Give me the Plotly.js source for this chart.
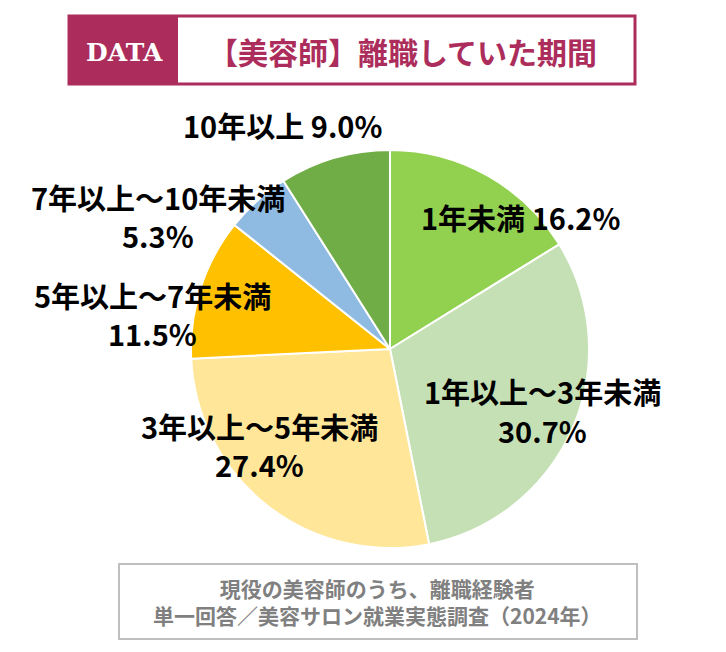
<!DOCTYPE html>
<html>
<head>
<meta charset="utf-8">
<script src="https://cdn.plot.ly/plotly-3.0.1.min.js"></script>
<style>
  html, body { margin: 0; padding: 0; background: #ffffff; }
  #chart { width: 726px; height: 652px; }
</style>
</head>
<body>
<div id="chart"></div>
<script>
// 離職していた期間（単一回答）
const categories = ['1年未満', '1年以上～3年未満', '3年以上～5年未満', '5年以上～7年未満', '7年以上～10年未満', '10年以上'];
const values = [16.2, 30.7, 27.4, 11.5, 5.3, 9.0];
const sliceColors = ['#92D050', '#C5E0B4', '#FFE699', '#FFC000', '#8FBBE2', '#70AD47'];

const titleText = '【美容師】離職していた期間';
const noteLines = ['現役の美容師のうち、離職経験者', '単一回答／美容サロン就業実態調査（2024年）'];

// ラベルの位置（ピクセル）。y2 があれば数値を次の行に置く
const labelPos = [
    { x: 520, y: 217, y2: null },
    { x: 542, y: 391, y2: 430 },
    { x: 259, y: 426, y2: 464 },
    { x: 152, y: 295, y2: 333 },
    { x: 158, y: 197, y2: 235 },
    { x: 282, y: 125, y2: null }
];

const W = 726, H = 652;
const px = x => x / W;
const py = y => 1 - y / H;

// 円の中心と半径（ピクセル）
const cx = 390, cy = 349, r = 199;

const data = [{
    type: 'pie',
    labels: categories,
    values: values,
    sort: false,
    direction: 'clockwise',
    rotation: 0,
    textinfo: 'none',
    hoverinfo: 'label+percent',
    automargin: false,
    showlegend: false,
    marker: { colors: sliceColors, line: { color: '#ffffff', width: 2 } },
    domain: { x: [px(cx - r), px(cx + r)], y: [py(cy + r), py(cy - r)] }
}];

const labelFont = { family: 'Noto Sans CJK JP', size: 29, color: '#000000', weight: 'bold' };

function label(text, x, y) {
    return {
        xref: 'paper', yref: 'paper',
        x: px(x), y: py(y),
        xanchor: 'center', yanchor: 'middle',
        text: text, showarrow: false,
        font: labelFont
    };
}

const annotations = [];
categories.forEach((c, i) => {
    const v = values[i].toFixed(1) + '%';
    const p = labelPos[i];
    if (p.y2 === null) {
        annotations.push(label(c + ' ' + v, p.x, p.y));
    } else {
        annotations.push(label(c, p.x, p.y));
        annotations.push(label(v, p.x, p.y2));
    }
});

// タイトル
annotations.push({
    xref: 'paper', yref: 'paper', x: px(124), y: py(53),
    xanchor: 'center', yanchor: 'middle', showarrow: false,
    text: 'DATA',
    font: { family: 'DejaVu Serif', size: 25, color: '#ffffff', weight: 'bold' }
});
annotations.push({
    xref: 'paper', yref: 'paper', x: px(402), y: py(51),
    xanchor: 'center', yanchor: 'middle', showarrow: false,
    text: titleText,
    font: { family: 'Noto Sans CJK JP', size: 30, color: '#AC2D5B', weight: 'bold' }
});

// 注記
annotations.push({
    xref: 'paper', yref: 'paper', x: px(377), y: py(601),
    xanchor: 'center', yanchor: 'middle', showarrow: false,
    text: noteLines.join('<br>'),
    align: 'center',
    font: { family: 'Noto Sans CJK JP', size: 21, color: '#808080', weight: 'bold' }
});

const shapes = [
    {
        type: 'rect', xref: 'paper', yref: 'paper',
        x0: px(69), x1: px(635), y0: py(84), y1: py(16),
        line: { color: '#AC2D5B', width: 3 }, fillcolor: '#ffffff'
    },
    {
        type: 'rect', xref: 'paper', yref: 'paper',
        x0: px(69), x1: px(178), y0: py(84), y1: py(16),
        line: { width: 0 }, fillcolor: '#AC2D5B'
    },
    {
        type: 'rect', xref: 'paper', yref: 'paper',
        x0: px(119), x1: px(637), y0: py(639), y1: py(564),
        line: { color: '#BFBFBF', width: 2 }, fillcolor: 'rgba(0,0,0,0)'
    }
];

const layout = {
    width: W,
    height: H,
    margin: { l: 0, r: 0, t: 0, b: 0 },
    paper_bgcolor: '#ffffff',
    plot_bgcolor: '#ffffff',
    showlegend: false,
    annotations: annotations,
    shapes: shapes
};

Plotly.newPlot('chart', data, layout, { displayModeBar: false, staticPlot: true });
</script>
</body>
</html>
